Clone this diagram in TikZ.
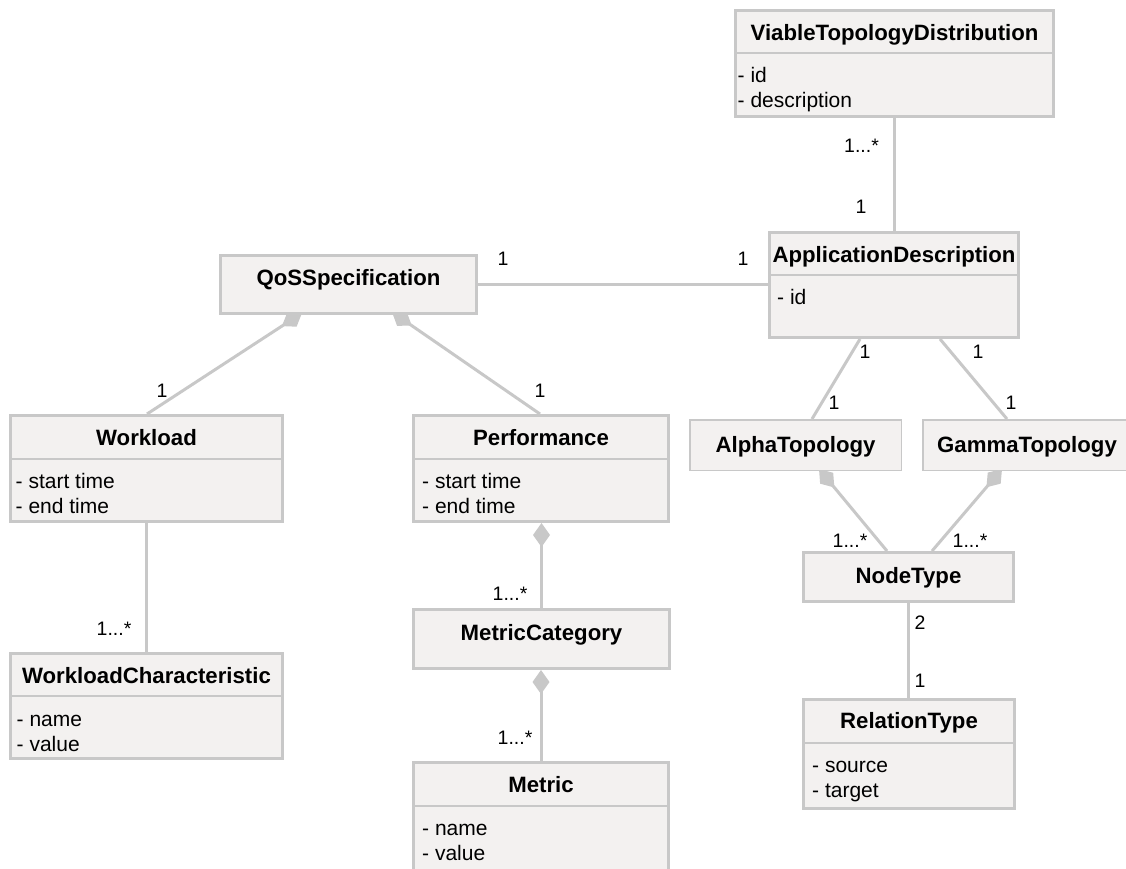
\documentclass[tikz,border=0pt]{standalone}
\usepackage{fontspec}
\setmainfont{Liberation Sans}
\usetikzlibrary{arrows.meta,calc}
\pgfdeclarelayer{background}
\pgfsetlayers{background,main}
\definecolor{boxfill}{RGB}{243,241,240}
\definecolor{edge}{RGB}{200,200,200}
\begin{document}
\begin{tikzpicture}[x=1pt,y=-1pt,
  cls/.style={draw=edge, fill=boxfill, line width=3pt, inner sep=0pt},
  thincls/.style={cls, line width=1.5pt},
  clsname/.style={font=\fontsize{22.2}{25}\selectfont\bfseries, anchor=base, inner sep=0pt},
  attr/.style={font=\fontsize{21}{24}\selectfont, anchor=base west, inner sep=0pt},
  mult/.style={font=\fontsize{19.5}{22}\selectfont, anchor=base, inner sep=0pt},
  conn/.style={draw=edge, line width=3pt},
  comp/.style={conn, -{Diamond[length=24pt,width=17pt,line width=0pt,fill=edge]}},
  divider/.style={draw=edge, line width=1.5pt},
]
\clip (0,0) rectangle (1126,868);

% ---------- classes ----------
\node[cls, minimum width=318pt, minimum height=106pt] (vtd) at (894.5,63.5) {};
\node[clsname] (vtdN) at (894.5,40) {ViableTopologyDistribution};
\draw[divider] ($(vtd.north west)+(0,44)$) -- ($(vtd.north east)+(0,44)$);
\node[attr] (vtdA1) at (737.5,82) {- id};
\node[attr] (vtdA2) at (737.5,107) {- description};

\node[cls, minimum width=249pt, minimum height=105pt] (app) at (894,285) {};
\node[clsname] (appN) at (894,262) {ApplicationDescription};
\draw[divider] ($(app.north west)+(0,44)$) -- ($(app.north east)+(0,44)$);
\node[attr] (appA1) at (777,304) {- id};

\node[cls, minimum width=256pt, minimum height=58pt] (qos) at (348.5,284.5) {};
\node[clsname] (qosN) at (348.5,285) {QoSSpecification};

\node[cls, minimum width=272pt, minimum height=106pt] (wl) at (146.5,468.5) {};
\node[clsname] (wlN) at (146.5,445) {Workload};
\draw[divider] ($(wl.north west)+(0,45)$) -- ($(wl.north east)+(0,45)$);
\node[attr] (wlA1) at (15.5,488) {- start time};
\node[attr] (wlA2) at (15.5,513) {- end time};

\node[cls, minimum width=255pt, minimum height=106pt] (perf) at (541,468.5) {};
\node[clsname] (perfN) at (541,445) {Performance};
\draw[divider] ($(perf.north west)+(0,45)$) -- ($(perf.north east)+(0,45)$);
\node[attr] (perfA1) at (422,488) {- start time};
\node[attr] (perfA2) at (422,513) {- end time};

\node[thincls, minimum width=211.5pt, minimum height=50.5pt] (alpha) at (795.5,445) {};
\node[clsname] (alphaN) at (795.5,452) {AlphaTopology};

\node[thincls, minimum width=208.5pt, minimum height=50.5pt] (gamma) at (1027,445) {};
\node[clsname] (gammaN) at (1027,452) {GammaTopology};

\node[cls, minimum width=210pt, minimum height=49pt] (nt) at (908.5,577) {};
\node[clsname] (ntN) at (908.5,583) {NodeType};

\node[cls, minimum width=211pt, minimum height=109pt] (rt) at (909,754) {};
\node[clsname] (rtN) at (909,728) {RelationType};
\draw[divider] ($(rt.north west)+(0,45)$) -- ($(rt.north east)+(0,45)$);
\node[attr] (rtA1) at (812,772) {- source};
\node[attr] (rtA2) at (812,797) {- target};

\node[cls, minimum width=256pt, minimum height=59pt] (mc) at (541.5,639) {};
\node[clsname] (mcN) at (541.5,640) {MetricCategory};

\node[cls, minimum width=272pt, minimum height=105pt] (wc) at (146.5,706) {};
\node[clsname] (wcN) at (146.5,683) {WorkloadCharacteristic};
\draw[divider] ($(wc.north west)+(0,44)$) -- ($(wc.north east)+(0,44)$);
\node[attr] (wcA1) at (16.5,726) {- name};
\node[attr] (wcA2) at (16.5,751) {- value};

\node[cls, minimum width=255pt, minimum height=111pt] (met) at (541,818) {};
\node[clsname] (metN) at (541,792) {Metric};
\draw[divider] ($(met.north west)+(0,45)$) -- ($(met.north east)+(0,45)$);
\node[attr] (metA1) at (422,835) {- name};
\node[attr] (metA2) at (422,860) {- value};

% ---------- associations ----------
\begin{pgfonlayer}{background}
\draw[conn] (vtd.south) -- (vtd.south |- app.north);
\draw[conn] (qos.east) -- (qos.east -| app.west);
\draw[comp] ($(wl.north)+(0.5,0)$) -- ($(qos.south)+(-46.5,-2)$);
\draw[comp] ($(perf.north)+(-1,0)$) -- ($(qos.south)+(43.5,-3)$);
\draw[conn] ($(app.south)+(-34,0)$) -- ($(alpha.north)+(16.5,0)$);
\draw[conn] ($(app.south)+(46,0)$) -- ($(gamma.north)+(-20,0)$);
\draw[comp] ($(nt.north)+(-21.5,0)$) -- ($(alpha.south)+(23.5,-2)$);
\draw[comp] ($(nt.north)+(23.5,0)$) -- ($(gamma.south)+(-25,-2)$);
\draw[conn] (nt.south) -- (nt.south |- rt.north);
\draw[conn] (wl.south) -- (wc.north);
\draw[comp] (mc.north) -- (mc.north |- perf.south);
\draw[comp] (met.north) -- (met.north |- mc.south);
\end{pgfonlayer}

% ---------- multiplicities ----------
\node[mult] (m1) at (861.5,152) {1...*};
\node[mult] (m2) at (861,213) {1};
\node[mult] (m3) at (503,265) {1};
\node[mult] (m4) at (743,265) {1};
\node[mult] (m5) at (162,397) {1};
\node[mult] (m6) at (540,397) {1};
\node[mult] (m7) at (865,358) {1};
\node[mult] (m8) at (834,409) {1};
\node[mult] (m9) at (978,358) {1};
\node[mult] (m10) at (1011,409) {1};
\node[mult] (m11) at (850,547) {1...*};
\node[mult] (m12) at (970,547) {1...*};
\node[mult] (m13) at (920,629) {2};
\node[mult] (m14) at (920,687) {1};
\node[mult] (m15) at (114,635) {1...*};
\node[mult] (m16) at (510,600) {1...*};
\node[mult] (m17) at (515,744) {1...*};
\end{tikzpicture}
\end{document}
